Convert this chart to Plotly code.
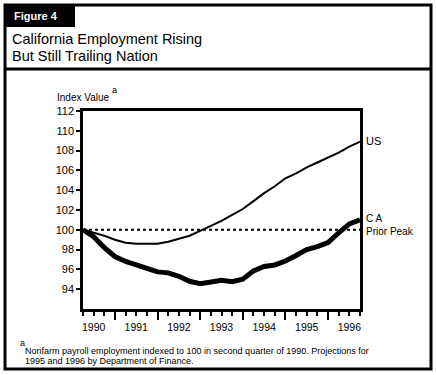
import plotly.graph_objects as go

# ---- data (quarterly, 1990 Q2 through 1996 Q4) ----
quarters = [1990.25, 1990.5, 1990.75,
            1991.0, 1991.25, 1991.5, 1991.75,
            1992.0, 1992.25, 1992.5, 1992.75,
            1993.0, 1993.25, 1993.5, 1993.75,
            1994.0, 1994.25, 1994.5, 1994.75,
            1995.0, 1995.25, 1995.5, 1995.75,
            1996.0, 1996.25, 1996.5, 1996.75]
us_index = [100.0, 99.7, 99.4, 99.0, 98.7, 98.6, 98.6, 98.6, 98.8, 99.1, 99.4,
            99.9, 100.4, 100.9, 101.5, 102.1, 102.9, 103.7, 104.4, 105.2, 105.7,
            106.3, 106.8, 107.3, 107.8, 108.4, 108.9]
ca_index = [100.0, 99.3, 98.2, 97.3, 96.8, 96.5, 96.1, 95.75, 95.65, 95.3, 94.8,
            94.55, 94.75, 94.9, 94.75, 95.0, 95.85, 96.3, 96.45, 96.85, 97.4,
            98.0, 98.3, 98.7, 99.7, 100.6, 101.0]
prior_peak = 100.0
year_labels = ["1990", "1991", "1992", "1993", "1994", "1995", "1996"]
year_centers = [1990.5, 1991.5, 1992.5, 1993.5, 1994.5, 1995.5, 1996.5]
year_ticks = [1991, 1992, 1993, 1994, 1995, 1996]
y_ticks = [94, 96, 98, 100, 102, 104, 106, 108, 110, 112]

W, H = 436, 375
L, R, T, B = 83, 360, 111, 309
FONT = "Liberation Sans, Arial, Helvetica, sans-serif"


def px(x):
    return (x - L) / (R - L)


def py(y):
    return (B - y) / (B - T)


fig = go.Figure()
fig.add_trace(go.Scatter(x=[quarters[0], quarters[-1]], y=[prior_peak, prior_peak],
                         mode="lines", line=dict(color="black", width=2, dash="3px,3px"),
                         hoverinfo="skip"))
fig.add_trace(go.Scatter(x=quarters, y=us_index, mode="lines",
                         line=dict(color="black", width=2), name="US"))
fig.add_trace(go.Scatter(x=quarters, y=ca_index, mode="lines",
                         line=dict(color="black", width=5), name="CA"))
# invisible trace to carry the year-label axis
fig.add_trace(go.Scatter(x=quarters, y=ca_index, mode="lines", xaxis="x2",
                         line=dict(color="rgba(0,0,0,0)", width=0), hoverinfo="skip"))

fig.update_layout(
    width=W, height=H, showlegend=False,
    margin=dict(l=L, r=W - R, t=T, b=H - B, pad=0),
    paper_bgcolor="white", plot_bgcolor="white",
    font=dict(family=FONT, color="black", size=11),
    xaxis=dict(range=[quarters[0], quarters[-1]], tickvals=year_ticks,
               showticklabels=False, ticks="outside", ticklen=8, tickwidth=2,
               tickcolor="black", showline=True, linewidth=2.5, linecolor="black",
               mirror=True, showgrid=False, zeroline=False,
               minor=dict(ticks="outside", ticklen=4, tickwidth=2, tickcolor="black",
                          dtick=0.25, tick0=1990.25, showgrid=False)),
    xaxis2=dict(range=[quarters[0], quarters[-1]], overlaying="x", anchor="y",
                side="bottom", tickvals=year_centers, ticktext=year_labels,
                ticks="outside", ticklen=8, tickcolor="rgba(0,0,0,0)",
                showline=False, showgrid=False, zeroline=False,
                tickfont=dict(size=10.5)),
    yaxis=dict(range=[92, 112], tickvals=y_ticks, ticks="outside", ticklen=4,
               tickwidth=2, tickcolor="black", showline=True, linewidth=2.5,
               linecolor="black", mirror=True, showgrid=False, zeroline=False,
               tickfont=dict(size=11)),
)

shapes = [
    dict(type="rect", xref="paper", yref="paper", x0=px(5), x1=px(431), y0=py(5),
         y1=py(369), line=dict(color="black", width=3), fillcolor="rgba(0,0,0,0)", layer="below"),
    dict(type="rect", xref="paper", yref="paper", x0=px(5), x1=px(75), y0=py(5),
         y1=py(27), line=dict(color="black", width=0), fillcolor="black"),
    dict(type="line", xref="paper", yref="paper", x0=px(5), x1=px(431), y0=py(69),
         y1=py(69), line=dict(color="black", width=3)),
]
fig.update_layout(shapes=shapes)

ann = [
    dict(text="<b>Figure 4</b>", x=px(12), y=py(16), xanchor="left", yanchor="middle",
         font=dict(color="white", size=11)),
    dict(text="California Employment Rising", x=px(10), y=py(39), xanchor="left",
         yanchor="middle", font=dict(size=14.5)),
    dict(text="But Still Trailing Nation", x=px(10), y=py(56), xanchor="left",
         yanchor="middle", font=dict(size=14.5)),
    dict(text="Index Value", x=px(55), y=py(97), xanchor="left", yanchor="middle",
         font=dict(size=10)),
    dict(text="a", x=px(110), y=py(90), xanchor="left", yanchor="middle",
         font=dict(size=9)),
    dict(text="US", x=px(364), y=py(141), xanchor="left", yanchor="middle",
         font=dict(size=11)),
    dict(text="C A", x=px(364), y=py(218), xanchor="left", yanchor="middle",
         font=dict(size=10)),
    dict(text="Prior Peak", x=px(364), y=py(231), xanchor="left", yanchor="middle",
         font=dict(size=10)),
    dict(text="a", x=px(18), y=py(343), xanchor="left", yanchor="middle",
         font=dict(size=9)),
    dict(text="Nonfarm payroll employment indexed to 100 in second quarter of 1990. Projections for",
         x=px(23), y=py(351), xanchor="left", yanchor="middle", font=dict(size=9)),
    dict(text="1995 and 1996 by Department of Finance.",
         x=px(23), y=py(361), xanchor="left", yanchor="middle", font=dict(size=9)),
]
for a in ann:
    a.update(xref="paper", yref="paper", showarrow=False)
fig.update_layout(annotations=ann)

fig.write_html("out.html", config={"displayModeBar": False},
               post_script="document.body.style.margin='0';document.body.style.overflow='hidden';")
